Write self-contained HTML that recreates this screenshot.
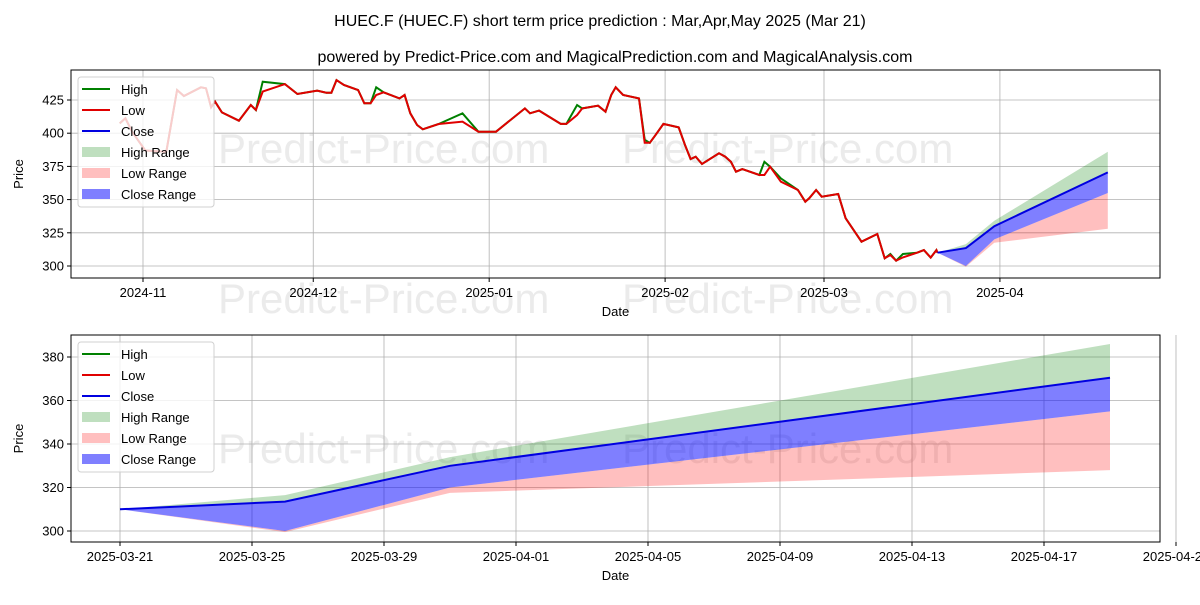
<!DOCTYPE html>
<html><head><meta charset="utf-8"><style>
body{margin:0;background:#fff}
svg{font-family:"Liberation Sans","DejaVu Sans",sans-serif}
</style></head><body>
<svg id="c" width="1200" height="600" xmlns="http://www.w3.org/2000/svg">
<rect width="1200" height="600" fill="#fff"/>
<text x="600" y="26" text-anchor="middle" font-size="16">HUEC.F (HUEC.F) short term price prediction : Mar,Apr,May 2025 (Mar 21)</text>
<text x="615" y="62" text-anchor="middle" font-size="16">powered by Predict-Price.com and MagicalPrediction.com and MagicalAnalysis.com</text>
<g fill="#ebebeb" font-size="42">
<text x="218" y="163">Predict-Price.com</text><text x="622" y="163">Predict-Price.com</text>
<text x="218" y="313">Predict-Price.com</text><text x="622" y="313">Predict-Price.com</text>
<text x="218" y="463">Predict-Price.com</text><text x="622" y="463">Predict-Price.com</text>
</g>
<g id="top"></g><g id="bot"></g>
</svg>
<script>
// history: day offsets from 2024-11-01
const histDays=[-4.1,-3.1,-1.9,0.4,4.1,6,7.2,10.2,11.1,12,12.7,13.9,16.9,19,19.9,21.1,25,27.2,30.7,32.3,33.2,34.1,35.4,37.9,39,40.1,41.1,42.4,45.2,46.1,47.1,48.3,49.3,52.1,56.3,59.1,62.2,67.3,68.2,69.8,73.6,74.6,76.5,77.4,80.2,81.5,82.5,83.3,84.6,87.4,88.4,89.3,90.3,91.7,94.4,95.5,96.5,97.4,98.5,101.5,102.6,103.6,104.5,105.6,108.6,109.5,110.5,112.4,115.4,116.7,117.4,118.6,119.6,122.5,123.8,126.6,129.4,130.7,131.7,132.7,133.9,136.4,137.6,138.8,139.8,140];
const histLow=[407.4,411.2,401,387,386,432.5,428,434.6,433.8,419.5,423.7,415.7,409.4,421.2,417.5,431.3,437,429.5,432,430.5,430.5,440,436.3,432.5,422.5,422.5,428.8,430.8,426.2,428.8,415,406.2,402.9,406.9,408.7,401.1,401.1,418.7,415,417,407,407,413.7,418.7,420.7,416.2,428.8,434.6,428.8,426.2,392.8,392.8,398.6,407,404.4,391.1,380.6,382.3,376.8,384.9,382.3,378.5,371,373,368.5,368.5,374.8,363.5,357.2,348.4,351,357.2,352.2,354.2,336,318.3,324.1,305.8,308.3,304,306.5,310,312,306.3,312,310];
const histHigh=[407.4,411.2,401,387,386,432.5,428,434.6,433.8,419.5,423.7,415.7,409.4,421.2,417.5,438.8,437,429.5,432,430.5,430.5,440,436.3,432.5,422.5,422.5,434.6,430.8,426.2,428.8,415,406.2,402.9,406.9,415,401.1,401.1,418.7,415,417,407,407,421.2,418.7,420.7,416.2,428.8,434.6,428.8,426.2,395,392.8,398.6,407,404.4,391.1,380.6,382.3,376.8,384.9,382.3,378.5,371,373,368.5,378.5,374.8,366,357.2,348.4,351,357.2,352.2,354.2,336,318.3,324.1,305.8,309,304,309,310,312,306.3,312,310];
// forecast: day offsets from 2024-11-01 (140 = 2025-03-21)
const fcDays=[140,145,150,170];
const fcClose=[310,313.5,330,370.5];
const fcHighUpper=[310,316.5,334,386];
const fcCloseLower=[310,300,320,355];
const fcLowLower=[310,299.5,317.5,328];
const topYTicks=[300,325,350,375,400,425];
const topXTicks=[{d:0,l:"2024-11"},{d:30,l:"2024-12"},{d:61,l:"2025-01"},{d:92,l:"2025-02"},{d:120,l:"2025-03"},{d:151,l:"2025-04"}];
const botYTicks=[300,320,340,360,380];
const botXTickDays=[140,144,148,152,156,160,164,168,172];
const botXTickLabels=["2025-03-21","2025-03-25","2025-03-29","2025-04-01","2025-04-05","2025-04-09","2025-04-13","2025-04-17","2025-04-21"];

const NS="http://www.w3.org/2000/svg";
function mk(p,t,a){const e=document.createElementNS(NS,t);for(const k in a)e.setAttribute(k,a[k]);p.appendChild(e);return e;}
function pts(xs,ys,X,Y){return xs.map((d,i)=>X(d).toFixed(1)+","+Y(ys[i]).toFixed(1)).join(" ");}
function band(xs,lo,hi,X,Y){return pts(xs,hi,X,Y)+" "+pts(xs.slice().reverse(),lo.slice().reverse(),X,Y);}

function panel(g,box,X,Y,yt,xt,withHist){
  // grid
  yt.forEach(v=>{const l=mk(g,"line",{x1:box.x0,x2:box.x1,y1:Y(v),y2:Y(v),stroke:"#b0b0b0","stroke-width":0.8});
  
  
  const t=mk(g,"text",{x:box.x0-7,y:Y(v)+4.5,"text-anchor":"end","font-size":13});t.textContent=v;
  
  
  mk(g,"line",{x1:box.x0-4,x2:box.x0,y1:Y(v),y2:Y(v),stroke:"#000"});});
  xt.forEach(o=>{const x=X(o.d);const l=mk(g,"line",{x1:x,x2:x,y1:box.y0,y2:box.y1,stroke:"#b0b0b0","stroke-width":0.8});
  
  
  mk(g,"line",{x1:x,x2:x,y1:box.y1,y2:box.y1+4,stroke:"#000"});
  const t=mk(g,"text",{x:x,y:box.y1+19,"text-anchor":"middle","font-size":13});t.textContent=o.l;
  
  });
  // forecast bands
  const gb=mk(g,"polygon",{points:band(fcDays,fcClose,fcHighUpper,X,Y),fill:"#008000","fill-opacity":0.25});
  
  
  const rb=mk(g,"polygon",{points:band(fcDays,fcLowLower,fcCloseLower,X,Y),fill:"#ff0000","fill-opacity":0.25});
  
  
  const bb=mk(g,"polygon",{points:band(fcDays,fcCloseLower,fcClose,X,Y),fill:"#0000ff","fill-opacity":0.5});
  
  
  if(withHist){
    const h=mk(g,"polyline",{points:pts(histDays,histHigh,X,Y),fill:"none",stroke:"#008000","stroke-width":2});
    
    
    const lo=mk(g,"polyline",{points:pts(histDays,histLow,X,Y),fill:"none",stroke:"#e00000","stroke-width":2});
    
    
  }
  const c=mk(g,"polyline",{points:pts(fcDays,fcClose,X,Y),fill:"none",stroke:"#0000e0","stroke-width":2});
  
  
  const fr=mk(g,"rect",{x:box.x0,y:box.y0,width:box.x1-box.x0,height:box.y1-box.y0,fill:"none",stroke:"#000","stroke-width":1});
  
  
  const xl=mk(g,"text",{x:(box.x0+box.x1)/2,y:box.y1+38,"text-anchor":"middle","font-size":13});xl.textContent="Date";
  
  
  const yl=mk(g,"text",{x:0,y:0,"text-anchor":"middle","font-size":13,transform:`translate(${box.x0-48},${(box.y0+box.y1)/2}) rotate(-90)`});yl.textContent="Price";
  
  
  // legend
  const lg=mk(g,"g",{});
  
  
  mk(lg,"rect",{x:78,y:box.y0+7,width:136,height:130,rx:3,fill:"#fff","fill-opacity":0.8,stroke:"#d0d0d0"});
  const items=[["High","line","#008000",1],["Low","line","#e00000",1],["Close","line","#0000e0",1],["High Range","box","#008000",0.25],["Low Range","box","#ff0000",0.25],["Close Range","box","#0000ff",0.5]];
  items.forEach((it,i)=>{const y=box.y0+19+i*21;
    if(it[1]=="line")mk(lg,"line",{x1:82,x2:110,y1:y,y2:y,stroke:it[2],"stroke-width":2});
    else mk(lg,"rect",{x:82,y:y-5,width:28,height:10,fill:it[2],"fill-opacity":it[3]});
    const t=mk(lg,"text",{x:121,y:y+5,"font-size":13});t.textContent=it[0];
    
    });
}
const tb={x0:71,x1:1160,y0:70,y1:278};
panel(document.getElementById("top"),tb,d=>143+d*5.675,v=>266-(v-300)*1.328,topYTicks,topXTicks,true);
const bbx={x0:71,x1:1160,y0:335,y1:542};
panel(document.getElementById("bot"),bbx,d=>120+(d-140)*33,v=>531-(v-300)*2.175,botYTicks,botXTickDays.map((d,i)=>({d:d,l:botXTickLabels[i]})),false);
</script>
</body></html>
